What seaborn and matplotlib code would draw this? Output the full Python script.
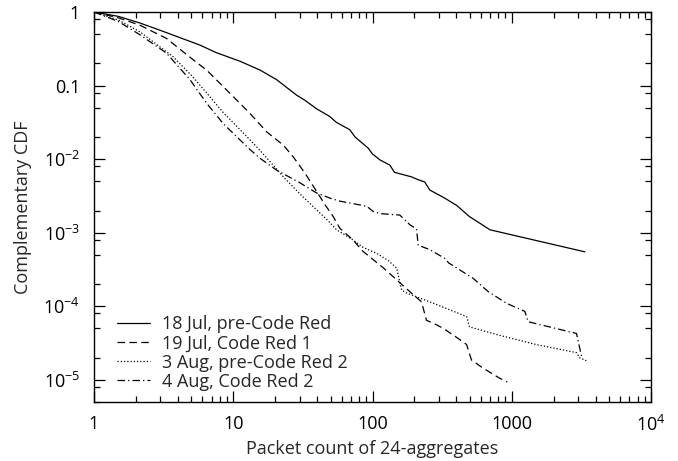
import numpy as np
import pandas as pd
import matplotlib
matplotlib.use("Agg")
import matplotlib.pyplot as plt
import matplotlib.ticker as mticker
import seaborn as sns

# complementary CDF curves, y as log10 values
jul18_x = [1, 1.5, 2.14, 3, 5.77, 7.5, 11.2, 15.6, 20.5, 28.5, 32.7, 40, 49.3, 55, 68.7, 75,
           93.1, 100, 113, 133, 144, 190, 213, 237, 258, 330, 403, 496, 600, 697, 3350]
jul18_ly = [0, -0.06, -0.15, -0.25, -0.45, -0.55, -0.67, -0.79, -0.92, -1.13, -1.20, -1.32,
            -1.42, -1.50, -1.60, -1.70, -1.85, -1.93, -2.01, -2.08, -2.18, -2.24, -2.28,
            -2.31, -2.42, -2.53, -2.63, -2.78, -2.88, -2.96, -3.26]

jul19_x = [1, 1.5, 2.14, 3.32, 5.16, 6.44, 10, 13.2, 17.4, 22.9, 27, 33, 39.7, 46, 52.2, 58.3,
           72.6, 85, 95.8, 120, 149, 180, 225, 244, 280, 322, 400, 474, 514, 600, 700, 822, 930]
jul19_ly = [0, -0.08, -0.18, -0.36, -0.65, -0.79, -1.15, -1.38, -1.63, -1.81, -1.97, -2.20,
            -2.44, -2.63, -2.78, -2.94, -3.10, -3.25, -3.33, -3.48, -3.64, -3.78, -3.94,
            -4.19, -4.24, -4.30, -4.42, -4.52, -4.73, -4.82, -4.90, -4.98, -5.03]

aug3_x = [1, 1.5, 2.14, 3.71, 5.0, 6.44, 8.5, 11.2, 14.7, 18.3, 22.9, 30, 39.7, 47, 55.2, 72.6,
          85.7, 107, 130, 149, 162, 176, 250, 350, 474, 497, 800, 1500, 2917, 3070, 3540]
aug3_ly = [0, -0.11, -0.27, -0.61, -0.86, -1.10, -1.37, -1.60, -1.83, -2.03, -2.24, -2.47,
           -2.69, -2.82, -2.96, -3.10, -3.20, -3.28, -3.38, -3.48, -3.78, -3.82, -3.93,
           -4.04, -4.14, -4.28, -4.39, -4.52, -4.63, -4.70, -4.75]

aug4_x = [1, 1.5, 2.14, 3.32, 4.89, 6.44, 8.5, 11.2, 13.2, 15.6, 20.5, 30, 39.7, 49.5, 58, 90.8,
          101, 113, 157, 185, 207, 213, 258, 331, 352, 528, 677, 919, 1242, 1312, 2917, 3170]
aug4_ly = [0, -0.13, -0.31, -0.56, -0.92, -1.24, -1.52, -1.74, -1.87, -1.99, -2.15, -2.32,
           -2.46, -2.53, -2.57, -2.64, -2.71, -2.74, -2.76, -2.89, -2.95, -3.17, -3.23,
           -3.35, -3.41, -3.62, -3.80, -3.96, -4.07, -4.21, -4.37, -4.68]

labels = ["18 Jul, pre-Code Red", "19 Jul, Code Red 1",
          "3 Aug, pre-Code Red 2", "4 Aug, Code Red 2"]

x_ticks = [1, 10, 100, 1000, 10000]
x_ticklabels = ["1", "10", "100", "1000", "$10^4$"]
y_ticks = [1e-5, 1e-4, 1e-3, 1e-2, 0.1, 1]
y_ticklabels = ["$10^{-5}$", "$10^{-4}$", "$10^{-3}$", "$10^{-2}$", "0.1", "1"]


def main():
    sns.set_style("ticks")
    plt.rcParams["font.family"] = ["Open Sans", "DejaVu Sans"]
    plt.rcParams["mathtext.fontset"] = "custom"
    plt.rcParams["mathtext.rm"] = "Open Sans"
    plt.rcParams["mathtext.default"] = "regular"

    fig = plt.figure(figsize=(6.78, 4.61), dpi=100)
    ax = fig.add_axes([94 / 678, 1 - 402 / 461, 557 / 678, 390 / 461])

    series = [(jul18_x, jul18_ly, "-"),
              (jul19_x, jul19_ly, (0, (6, 3.5))),
              (aug3_x, aug3_ly, (0, (1, 1.6))),
              (aug4_x, aug4_ly, (0, (6, 2.5, 1, 2.5)))]
    for (xs, lys, ls), name in zip(series, labels):
        df = pd.DataFrame({"x": xs, "y": 10 ** np.array(lys)})
        sns.lineplot(data=df, x="x", y="y", ax=ax, color="black", linewidth=0.9,
                     linestyle=ls, estimator=None, sort=False, label=name)

    ax.set_xscale("log")
    ax.set_yscale("log")
    ax.set_xlim(1, 1e4)
    ax.set_ylim(5e-6, 1)

    ax.set_xticks(x_ticks)
    ax.set_xticklabels(x_ticklabels)
    ax.set_yticks(y_ticks)
    ax.set_yticklabels(y_ticklabels)
    ax.xaxis.set_minor_locator(mticker.LogLocator(base=10, subs=range(2, 10)))
    ax.yaxis.set_minor_locator(mticker.LogLocator(base=10, subs=(2, 5, 8)))
    ax.xaxis.set_minor_formatter(mticker.NullFormatter())
    ax.yaxis.set_minor_formatter(mticker.NullFormatter())

    ax.tick_params(which="both", direction="in", top=True, right=True, colors="black",
                   labelsize=13)
    ax.tick_params(which="major", length=8, width=0.9)
    ax.tick_params(which="minor", length=4.5, width=0.9)
    ax.tick_params(axis="y", which="major", pad=10)
    ax.tick_params(axis="x", which="major", pad=9)
    for sp in ax.spines.values():
        sp.set_visible(True)
        sp.set_linewidth(1.0)
        sp.set_color("black")

    ax.set_xlabel("Packet count of 24-aggregates", fontsize=13, labelpad=4)
    ax.set_ylabel("Complementary CDF", fontsize=13, labelpad=8)

    ax.legend(loc="upper left", bbox_to_anchor=(0.041, 0.222), frameon=False,
              fontsize=13, handlelength=1.85, handletextpad=0.65, labelspacing=0.06,
              borderpad=0, borderaxespad=0)

    fig.savefig("out.png", dpi=100)


if __name__ == "__main__":
    main()
